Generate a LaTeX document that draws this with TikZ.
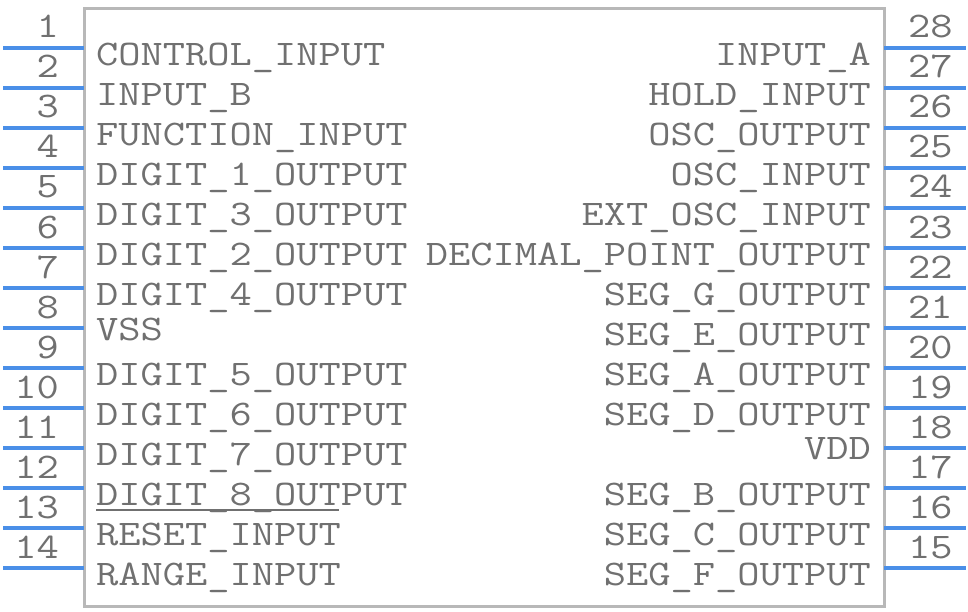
\documentclass[tikz,border=0pt]{standalone}
\usepackage{fontspec}
\setmonofont[FakeStretch=1.2]{Latin Modern Mono}
\definecolor{txtgray}{HTML}{707070}
\definecolor{boxgray}{HTML}{B8B8B8}
\definecolor{pinblue}{HTML}{4A8FE8}
\begin{document}
\begin{tikzpicture}[x=1pt,y=-1pt,
  lbl/.style={inner sep=0pt, font=\ttfamily\fontsize{36}{40}\selectfont, text=txtgray},
  pinnum/.style={lbl},
  pinline/.style={draw=pinblue, line width=4pt},
  bodybox/.style={draw=boxgray, line width=3pt},
  ovl/.style={draw=txtgray, line width=2pt}]
\useasboundingbox (0,0) rectangle (968,612);
\draw[bodybox] (84,9) rectangle (884,606);
% left pins
\foreach \i in {1,...,14}{
  \pgfmathsetmacro{\yy}{48+40*(\i-1)}
  \coordinate (La\i) at (3,\yy);
  \coordinate (Lb\i) at (84,\yy);
  \draw[pinline] (La\i) -- (Lb\i);
  \node[pinnum, anchor=base east] (Ln\i) at (59,\yy-10) {\i};
}
% right pins
\foreach \i in {1,...,14}{
  \pgfmathsetmacro{\yy}{48+40*(\i-1)}
  \pgfmathtruncatemacro{\nn}{29-\i}
  \coordinate (Ra\i) at (884,\yy);
  \coordinate (Rb\i) at (966,\yy);
  \draw[pinline] (Ra\i) -- (Rb\i);
  \node[pinnum, anchor=base west] (Rn\i) at (908,\yy-10) {\nn};
}
% left labels
\foreach \t/\yy [count=\i] in {CONTROL\_INPUT/65.5, INPUT\_B/105.5, FUNCTION\_INPUT/145.5,
  DIGIT\_1\_OUTPUT/185.5, DIGIT\_3\_OUTPUT/225.5, DIGIT\_2\_OUTPUT/265.5, DIGIT\_4\_OUTPUT/305.5,
  VSS/340, DIGIT\_5\_OUTPUT/385.5, DIGIT\_6\_OUTPUT/425.5, DIGIT\_7\_OUTPUT/465.5,
  DIGIT\_8\_OUTPUT/505.5, RESET\_INPUT/545.5, RANGE\_INPUT/585.5}{
  \node[lbl, anchor=base west] (Lt\i) at (96,\yy) {\t};
}
\draw[ovl] ([yshift=36pt]Lt13.base west) -- ([yshift=36pt,xshift=-2pt]Lt13.base east);
% right labels
\foreach \t/\yy [count=\i] in {INPUT\_A/65.5, HOLD\_INPUT/105.5, OSC\_OUTPUT/145.5,
  OSC\_INPUT/185.5, EXT\_OSC\_INPUT/225.5, DECIMAL\_POINT\_OUTPUT/265.5, SEG\_G\_OUTPUT/305.5,
  SEG\_E\_OUTPUT/345.5, SEG\_A\_OUTPUT/385.5, SEG\_D\_OUTPUT/425.5, VDD/459,
  SEG\_B\_OUTPUT/505.5, SEG\_C\_OUTPUT/545.5, SEG\_F\_OUTPUT/585.5}{
  \node[lbl, anchor=base east] (Rt\i) at (871,\yy) {\t};
}
\end{tikzpicture}
\end{document}
